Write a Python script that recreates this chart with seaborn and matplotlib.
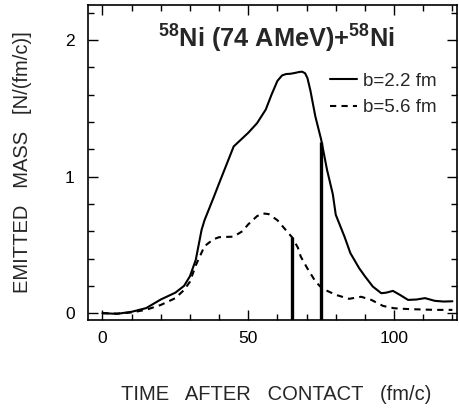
#!/usr/bin/env python3

import pandas as pd
import matplotlib
matplotlib.use('Agg')
import matplotlib.pyplot as plt
from matplotlib.ticker import MultipleLocator
import seaborn as sns

# b = 2.2 fm (solid)
t_central = [0, 5, 10, 15, 20, 22, 25, 28, 30, 32, 34, 35, 38, 40, 45, 47,
             50, 53, 56, 58, 60, 61.6, 63, 64.5, 66, 67.5, 68.5, 69.5, 70.3,
             71.3, 73, 75, 77, 79, 80, 83, 85, 88, 90, 92.7, 95.6, 97.3,
             99.6, 102, 104.8, 107.7, 110.6, 114, 117, 120]
m_central = [0.0, -0.005, 0.01, 0.037, 0.10, 0.12, 0.15, 0.20, 0.27, 0.39,
             0.61, 0.68, 0.84, 0.95, 1.22, 1.26, 1.32, 1.39, 1.49, 1.60,
             1.70, 1.74, 1.75, 1.752, 1.758, 1.765, 1.767, 1.755, 1.72,
             1.63, 1.44, 1.27, 1.05, 0.87, 0.72, 0.56, 0.44, 0.33, 0.27,
             0.195, 0.146, 0.15, 0.163, 0.134, 0.097, 0.10, 0.11, 0.09,
             0.085, 0.087]

# b = 5.6 fm (dashed)
t_peripheral = [0, 5, 10, 15, 20, 25, 28, 30, 32, 35, 38, 40, 45, 48, 50, 53,
                55, 57, 60, 62, 64, 65, 67, 68, 70.2, 73.1, 75.4, 80, 84.6,
                88.7, 92.2, 96.2, 100, 104.8, 114, 120]
m_peripheral = [0.0, -0.003, 0.005, 0.025, 0.06, 0.11, 0.17, 0.23, 0.35,
                0.49, 0.54, 0.556, 0.56, 0.60, 0.65, 0.71, 0.73, 0.725, 0.68,
                0.63, 0.58, 0.556, 0.48, 0.414, 0.33, 0.23, 0.18, 0.134, 0.105,
                0.12, 0.097, 0.053, 0.036, 0.03, 0.024, 0.024]

labels = ['b=2.2 fm', 'b=5.6 fm']
cut_times = [65, 75]
cut_heights = [0.556, 1.256]


def main():
    sns.set_style('ticks')
    plt.rcParams['font.family'] = ['Liberation Sans', 'DejaVu Sans']
    plt.rcParams['mathtext.fontset'] = 'custom'
    plt.rcParams['mathtext.rm'] = 'Liberation Sans'
    plt.rcParams['mathtext.bf'] = 'Liberation Sans:bold'

    df = pd.concat([
        pd.DataFrame({'t': t_central, 'm': m_central, 'b': labels[0]}),
        pd.DataFrame({'t': t_peripheral, 'm': m_peripheral, 'b': labels[1]}),
    ])

    fig = plt.figure(figsize=(4.6, 4.08), dpi=100)
    ax = fig.add_axes([0.191, 0.2157, 0.802, 0.772])

    sns.lineplot(data=df, x='t', y='m', style='b', color='black',
                 dashes={labels[0]: '', labels[1]: (3, 2.5)},
                 linewidth=1.5, ax=ax, sort=False)

    ax.vlines(cut_times, -0.05, cut_heights, color='black', linewidth=2.4)

    ax.set_xlim(-5, 121.5)
    ax.set_ylim(-0.05, 2.255)
    ax.xaxis.set_major_locator(MultipleLocator(50))
    ax.xaxis.set_minor_locator(MultipleLocator(10))
    ax.yaxis.set_major_locator(MultipleLocator(1))
    ax.yaxis.set_minor_locator(MultipleLocator(0.2))
    ax.tick_params(which='both', direction='in', top=True, right=True,
                   labelsize=12.5, colors='black')
    ax.tick_params(which='major', length=7, width=1)
    ax.tick_params(which='minor', length=4, width=1)
    ax.tick_params(axis='x', pad=8)
    ax.tick_params(axis='y', pad=9.5)
    for s in ax.spines.values():
        s.set_linewidth(1.2)
        s.set_color('black')

    ax.set_xlabel('')
    ax.set_ylabel('')
    fig.text(0.6, 0.034, 'TIME   AFTER   CONTACT   (fm/c)', ha='center',
             va='center', fontsize=14.5)
    fig.text(0.05, 0.602, 'EMITTED   MASS   [N/(fm/c)]', ha='center',
             va='center', rotation=90, fontsize=14.5)

    ax.text(0.51, 0.892, r'$\mathbf{^{58}}$Ni (74 AMeV)+$\mathbf{^{58}}$Ni',
            transform=ax.transAxes, ha='center', va='center',
            fontsize=18.3, fontweight='bold')

    leg = ax.legend(loc='upper left', bbox_to_anchor=(0.656, 0.785),
                    frameon=False, fontsize=13.5, handlelength=1.45,
                    handletextpad=0.3, labelspacing=0.5, borderpad=0,
                    borderaxespad=0)
    for line in leg.get_lines():
        line.set_linewidth(1.5)

    fig.savefig('out.png', dpi=100)


if __name__ == '__main__':
    main()
